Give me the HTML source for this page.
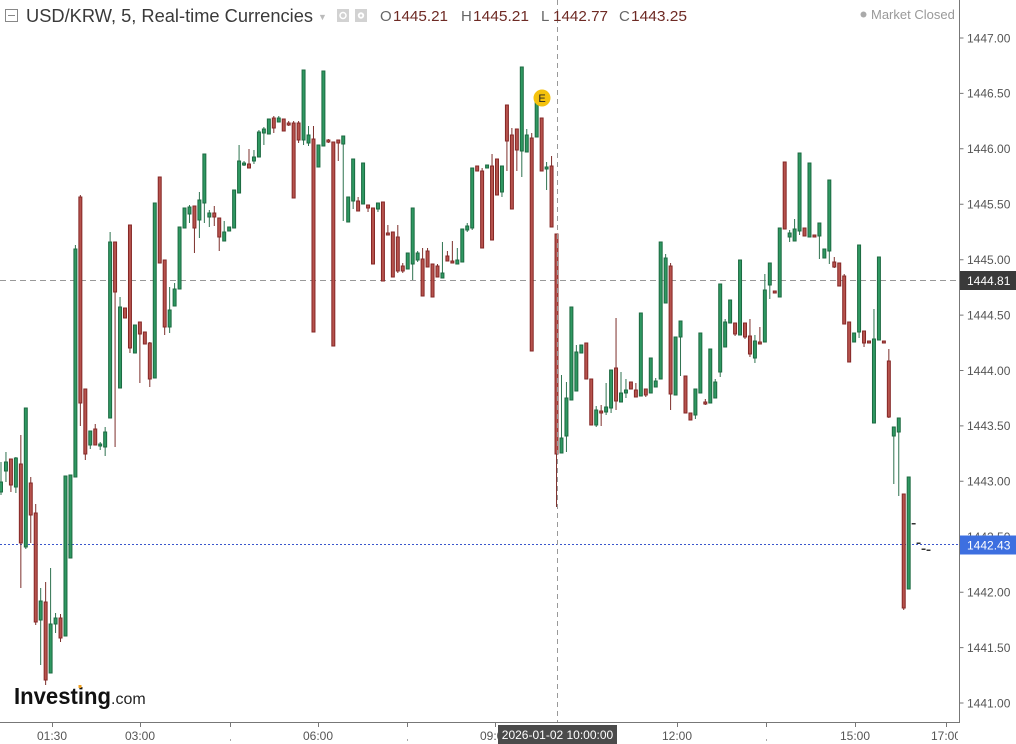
<!DOCTYPE html>
<html><head><meta charset="utf-8"><style>
html,body{margin:0;padding:0;background:#fff;}
svg{display:block;font-family:"Liberation Sans",Arial,sans-serif;}
.wk{fill:none;stroke-width:1;vector-effect:non-scaling-stroke;}
.bd{stroke-width:1;vector-effect:non-scaling-stroke;}
</style></head><body>
<svg width="1016" height="744" viewBox="0 0 1016 744" xmlns="http://www.w3.org/2000/svg">
<defs><clipPath id="pc"><rect x="0" y="0" width="959" height="723"/></clipPath></defs>
<rect width="1016" height="744" fill="#fff"/>

<!-- reference lines -->
<line x1="0" y1="280.5" x2="959" y2="280.5" stroke="#999" stroke-dasharray="6 4"/>
<line x1="0" y1="544.5" x2="959" y2="544.5" stroke="#3a56cc" stroke-dasharray="2 2"/>

<!-- candles -->
<g clip-path="url(#pc)">
<g transform="translate(1 0) scale(4.96 1)">
<path class="wk" stroke="#2f7350" d="M0 462V495M1 452V482M3 457V493M5 408V549M8 588V665M10 568V673M11 613V633M15 245V477M18 431V449M20 442V450M21 427V456M22 232V418M24 297V388M34 287V333M35 283V306M38 205V223M40 192V238M41 154V223M42 210V227M45 221V241M48 145V193M49 161V166M51 150V164M52 130V157M53 127V145M56 116V122M61 70V145M62 126V146M69 136V221M71 159V209M76 203V212M83 208V280M84 251V262M89 242V278M92 248V264M94 223V232M95 168V230M101 166V197M105 67V177M106 129V152M110 162V190M113 375V453M114 382V452M116 345V391M120 406V427M122 383V415M123 370V413M125 372V402M126 379V398M132 378V387M134 254V303M137 321V376M140 389V419M144 379V398M145 284V377M146 319V347M152 335V363M154 274V342M155 263V299M159 230V242M160 219V241M161 153V235M165 223V259M167 180V264M173 245V338M176 309V423M180 427V484M181 418V496"/>
<path class="wk" stroke="#7d302c" d="M2 459V492M4 435V588M6 477V543M7 504V625M9 582V685M12 614V642M16 195V426M17 389V460M19 424V445M23 242V447M26 225V353M28 322V383M30 342V387M33 260V335M39 206V253M43 206V226M44 218V251M50 149V168M55 116V133M58 121V126M59 121V198M60 121V143M63 126V332M66 139V143M68 140V161M72 197V211M74 205V212M78 225V235M80 225V273M81 263V273M85 248V296M86 248V267M88 264V277M90 251V261M91 241V263M97 168V248M99 154V240M102 105V171M103 128V209M104 129V171M107 133V351M111 156V227M112 234V507M121 405V426M124 318V410M128 383V397M130 389V397M135 263V410M142 399V405M148 323V336M150 323V339M151 319V357M153 327V344M168 257V268M170 274V324M174 331V347M179 349V418M182 494V610"/>
<path class="bd" fill="#2f9862" stroke="#1c6a41" d="M-.3 482h.6v10h-.6zM.7 462h.6v9h-.6zM2.7 458h.6v29h-.6zM4.7 408h.6v139h-.6zM7.7 601h.6v19h-.6zM9.7 624h.6v49h-.6zM10.7 618h.6v6h-.6zM12.7 476h.6v160h-.6zM13.7 475h.6v83h-.6zM14.7 249h.6v228h-.6zM17.7 431h.6v14h-.6zM19.7 444h.6v2h-.6zM20.7 432h.6v15h-.6zM21.7 242h.6v176h-.6zM23.7 307h.6v81h-.6zM26.7 325h.6v28h-.6zM30.7 203h.6v175h-.6zM33.7 310h.6v17h-.6zM34.7 289h.6v17h-.6zM35.7 227h.6v62h-.6zM36.7 208h.6v20h-.6zM37.7 207h.6v7h-.6zM39.7 200h.6v20h-.6zM40.7 154h.6v49h-.6zM41.7 213h.6v4h-.6zM44.7 232h.6v9h-.6zM45.7 227h.6v4h-.6zM46.7 190h.6v38h-.6zM47.7 161h.6v32h-.6zM48.7 163h.6v2h-.6zM50.7 157h.6v4h-.6zM51.7 132h.6v25h-.6zM52.7 129h.6v4h-.6zM53.7 119h.6v15h-.6zM55.7 118h.6v4h-.6zM60.7 70h.6v70h-.6zM61.7 135h.6v8h-.6zM63.7 145h.6v22h-.6zM64.7 71h.6v75h-.6zM68.7 136h.6v8h-.6zM69.7 197h.6v25h-.6zM70.7 159h.6v42h-.6zM72.7 163h.6v41h-.6zM75.7 203h.6v6h-.6zM81.7 253h.6v16h-.6zM82.7 208h.6v56h-.6zM83.7 253h.6v7h-.6zM88.7 273h.6v5h-.6zM91.7 260h.6v4h-.6zM92.7 229h.6v33h-.6zM93.7 226h.6v4h-.6zM94.7 168h.6v60h-.6zM97.7 165h.6v3h-.6zM100.7 166h.6v26h-.6zM104.7 67h.6v84h-.6zM105.7 135h.6v17h-.6zM107.7 102h.6v35h-.6zM109.7 167h.6v2h-.6zM112.7 438h.6v15h-.6zM113.7 398h.6v38h-.6zM114.7 307h.6v93h-.6zM115.7 352h.6v39h-.6zM116.7 345h.6v8h-.6zM119.7 410h.6v15h-.6zM121.7 407h.6v5h-.6zM122.7 370h.6v38h-.6zM124.7 393h.6v9h-.6zM125.7 390h.6v3h-.6zM128.7 313h.6v83h-.6zM130.7 358h.6v35h-.6zM131.7 381h.6v6h-.6zM132.7 242h.6v137h-.6zM133.7 258h.6v45h-.6zM135.7 337h.6v58h-.6zM136.7 321h.6v16h-.6zM139.7 389h.6v26h-.6zM140.7 333h.6v60h-.6zM142.7 349h.6v54h-.6zM143.7 382h.6v16h-.6zM144.7 284h.6v88h-.6zM145.7 322h.6v25h-.6zM146.7 300h.6v23h-.6zM148.7 260h.6v75h-.6zM151.7 341h.6v17h-.6zM153.7 290h.6v52h-.6zM154.7 263h.6v22h-.6zM156.7 228h.6v69h-.6zM158.7 233h.6v4h-.6zM159.7 229h.6v12h-.6zM160.7 153h.6v78h-.6zM162.7 163h.6v74h-.6zM164.7 223h.6v13h-.6zM165.7 249h.6v9h-.6zM166.7 180h.6v71h-.6zM171.7 333h.6v9h-.6zM172.7 245h.6v87h-.6zM175.7 339h.6v84h-.6zM176.7 257h.6v83h-.6zM179.7 427h.6v9h-.6zM180.7 418h.6v14h-.6zM182.7 477h.6v112h-.6z"/>
<path class="bd" fill="#b6534d" stroke="#852726" d="M1.7 459h.6v26h-.6zM3.7 464h.6v79h-.6zM5.7 483h.6v32h-.6zM6.7 513h.6v109h-.6zM8.7 602h.6v78h-.6zM11.7 618h.6v20h-.6zM15.7 197h.6v206h-.6zM16.7 389h.6v65h-.6zM18.7 429h.6v16h-.6zM22.7 242h.6v50h-.6zM24.7 308h.6v10h-.6zM25.7 225h.6v123h-.6zM27.7 322h.6v12h-.6zM28.7 332h.6v12h-.6zM29.7 343h.6v36h-.6zM31.7 177h.6v86h-.6zM32.7 260h.6v67h-.6zM38.7 206h.6v22h-.6zM42.7 213h.6v4h-.6zM43.7 218h.6v19h-.6zM49.7 164h.6v4h-.6zM54.7 118h.6v10h-.6zM56.7 119h.6v12h-.6zM57.7 123h.6v2h-.6zM58.7 123h.6v75h-.6zM59.7 123h.6v17h-.6zM62.7 139h.6v193h-.6zM65.7 140h.6v2h-.6zM66.7 142h.6v204h-.6zM67.7 140h.6v3h-.6zM71.7 201h.6v10h-.6zM73.7 205h.6v3h-.6zM74.7 208h.6v56h-.6zM76.7 202h.6v79h-.6zM77.7 233h.6v2h-.6zM78.7 232h.6v45h-.6zM79.7 237h.6v34h-.6zM80.7 266h.6v5h-.6zM84.7 259h.6v37h-.6zM85.7 251h.6v16h-.6zM86.7 264h.6v33h-.6zM87.7 266h.6v11h-.6zM89.7 256h.6v5h-.6zM90.7 261h.6v2h-.6zM95.7 166h.6v5h-.6zM96.7 171h.6v77h-.6zM98.7 166h.6v74h-.6zM99.7 159h.6v36h-.6zM101.7 105h.6v36h-.6zM102.7 135h.6v74h-.6zM103.7 129h.6v21h-.6zM106.7 138h.6v213h-.6zM108.7 118h.6v53h-.6zM110.7 166h.6v61h-.6zM111.7 234h.6v220h-.6zM117.7 343h.6v36h-.6zM118.7 379h.6v46h-.6zM120.7 411h.6v2h-.6zM123.7 368h.6v33h-.6zM126.7 382h.6v7h-.6zM127.7 390h.6v7h-.6zM129.7 389h.6v6h-.6zM134.7 266h.6v128h-.6zM137.7 376h.6v37h-.6zM138.7 413h.6v7h-.6zM141.7 402h.6v2h-.6zM147.7 323h.6v11h-.6zM149.7 323h.6v14h-.6zM150.7 336h.6v18h-.6zM152.7 342h.6v2h-.6zM155.7 291h.6v2h-.6zM157.7 162h.6v67h-.6zM161.7 228h.6v8h-.6zM163.7 235h.6v2h-.6zM167.7 262h.6v5h-.6zM168.7 263h.6v23h-.6zM169.7 276h.6v48h-.6zM170.7 322h.6v40h-.6zM173.7 331h.6v12h-.6zM174.7 341h.6v2h-.6zM177.7 341h.6v2h-.6zM178.7 361h.6v56h-.6zM181.7 494h.6v114h-.6z"/>
<path fill="#333" d="M183.6 523h.8v1.5h-.8zM184.6 542.5h.8v1.5h-.8zM185.6 548.5h.8v1.5h-.8zM186.6 549.5h.8v1.5h-.8z"/>
</g>
</g>

<!-- crosshair vertical -->
<line x1="557.5" y1="0" x2="557.5" y2="723" stroke="#999" stroke-dasharray="5 4"/>

<!-- E marker -->
<circle cx="542" cy="98" r="8.5" fill="#f4c20d"/>
<text x="542" y="102" font-size="11" fill="#222" text-anchor="middle">E</text>

<!-- axes -->
<line x1="959.5" y1="0" x2="959.5" y2="723" stroke="#777"/>
<line x1="0" y1="722.5" x2="959.5" y2="722.5" stroke="#777"/>

<!-- price labels -->
<g font-size="12" fill="#555" stroke="none">
<path d="M959.5 38h4M959.5 93.4h4M959.5 148.8h4M959.5 204.2h4M959.5 259.7h4M959.5 315.1h4M959.5 370.5h4M959.5 425.9h4M959.5 481.3h4M959.5 536.7h4M959.5 592.2h4M959.5 647.6h4M959.5 703h4" stroke="#777"/>
<text x="967" y="42.3">1447.00</text>
<text x="967" y="97.7">1446.50</text>
<text x="967" y="153.1">1446.00</text>
<text x="967" y="208.5">1445.50</text>
<text x="967" y="264">1445.00</text>
<text x="967" y="319.4">1444.50</text>
<text x="967" y="374.8">1444.00</text>
<text x="967" y="430.2">1443.50</text>
<text x="967" y="485.6">1443.00</text>
<text x="967" y="541">1442.50</text>
<text x="967" y="596.5">1442.00</text>
<text x="967" y="651.9">1441.50</text>
<text x="967" y="707.3">1441.00</text>
</g>
<rect x="960" y="271" width="56" height="19" fill="#3a3a3a"/>
<text x="967" y="285" font-size="12" fill="#fff">1444.81</text>
<rect x="960" y="535.5" width="56" height="19" fill="#3d6fe0"/>
<text x="967" y="549.5" font-size="12" fill="#fff">1442.43</text>

<!-- time axis -->
<path d="M52.5 723v4M140.5 723v4M230.5 723v4M318.5 723v4M407.5 723v4M495.5 723v4M677.5 723v4M766.5 723v4M855.5 723v4M946.5 723v4" stroke="#777"/>
<path d="M230.5 739v2M407.5 739v2M766.5 739v2" stroke="#aaa"/>
<g font-size="12" fill="#555" text-anchor="middle">
<text x="52" y="740">01:30</text>
<text x="140" y="740">03:00</text>
<text x="318" y="740">06:00</text>
<text x="495" y="740">09:00</text>
<text x="677" y="740">12:00</text>
<text x="855" y="740">15:00</text>
</g>
<defs><clipPath id="tc"><rect x="900" y="724" width="58" height="20"/></clipPath></defs>
<text x="946" y="740" font-size="12" fill="#555" text-anchor="middle" clip-path="url(#tc)">17:00</text>
<rect x="498" y="725" width="119" height="19" fill="#4b4b4b"/>
<text x="557.5" y="739" font-size="12" fill="#fff" text-anchor="middle">2026-01-02 10:00:00</text>

<!-- header -->
<rect x="5.5" y="9.5" width="12" height="12" fill="none" stroke="#888"/>
<line x1="8" y1="15.5" x2="15" y2="15.5" stroke="#888"/>
<text x="26" y="22" font-size="18" fill="#3a3a3a" textLength="287" lengthAdjust="spacingAndGlyphs">USD/KRW, 5, Real-time Currencies</text>
<text x="318" y="20" font-size="9" fill="#bbb">▼</text>
<rect x="337" y="9" width="12" height="13" fill="#d2d2d2"/>
<circle cx="343" cy="15.5" r="3" fill="none" stroke="#fff" stroke-width="1.5"/>
<rect x="355" y="9" width="12" height="13" fill="#d2d2d2"/>
<circle cx="361" cy="15.5" r="3.2" fill="#fff"/>
<circle cx="361" cy="15.5" r="1.3" fill="#d2d2d2"/>
<g font-size="15">
<text x="380" y="21" fill="#666">O</text>
<text x="393" y="21" fill="#6e2a24" textLength="55" lengthAdjust="spacingAndGlyphs">1445.21</text>
<text x="461" y="21" fill="#666">H</text>
<text x="473" y="21" fill="#6e2a24" textLength="56" lengthAdjust="spacingAndGlyphs">1445.21</text>
<text x="541" y="21" fill="#666">L</text>
<text x="553" y="21" fill="#6e2a24" textLength="55" lengthAdjust="spacingAndGlyphs">1442.77</text>
<text x="619" y="21" fill="#666">C</text>
<text x="631" y="21" fill="#6e2a24" textLength="56" lengthAdjust="spacingAndGlyphs">1443.25</text>
</g>
<circle cx="863.5" cy="14.5" r="3" fill="#aaa"/>
<text x="871" y="19" font-size="13" fill="#999">Market Closed</text>

<!-- logo -->
<text x="14" y="704" font-size="23" font-weight="bold" fill="#111" textLength="97" lengthAdjust="spacingAndGlyphs">Investing</text>
<text x="111" y="704" font-size="16" fill="#222">.com</text>
<rect x="78.5" y="685" width="3" height="3" fill="#f0a020"/>
</svg>
</body></html>
